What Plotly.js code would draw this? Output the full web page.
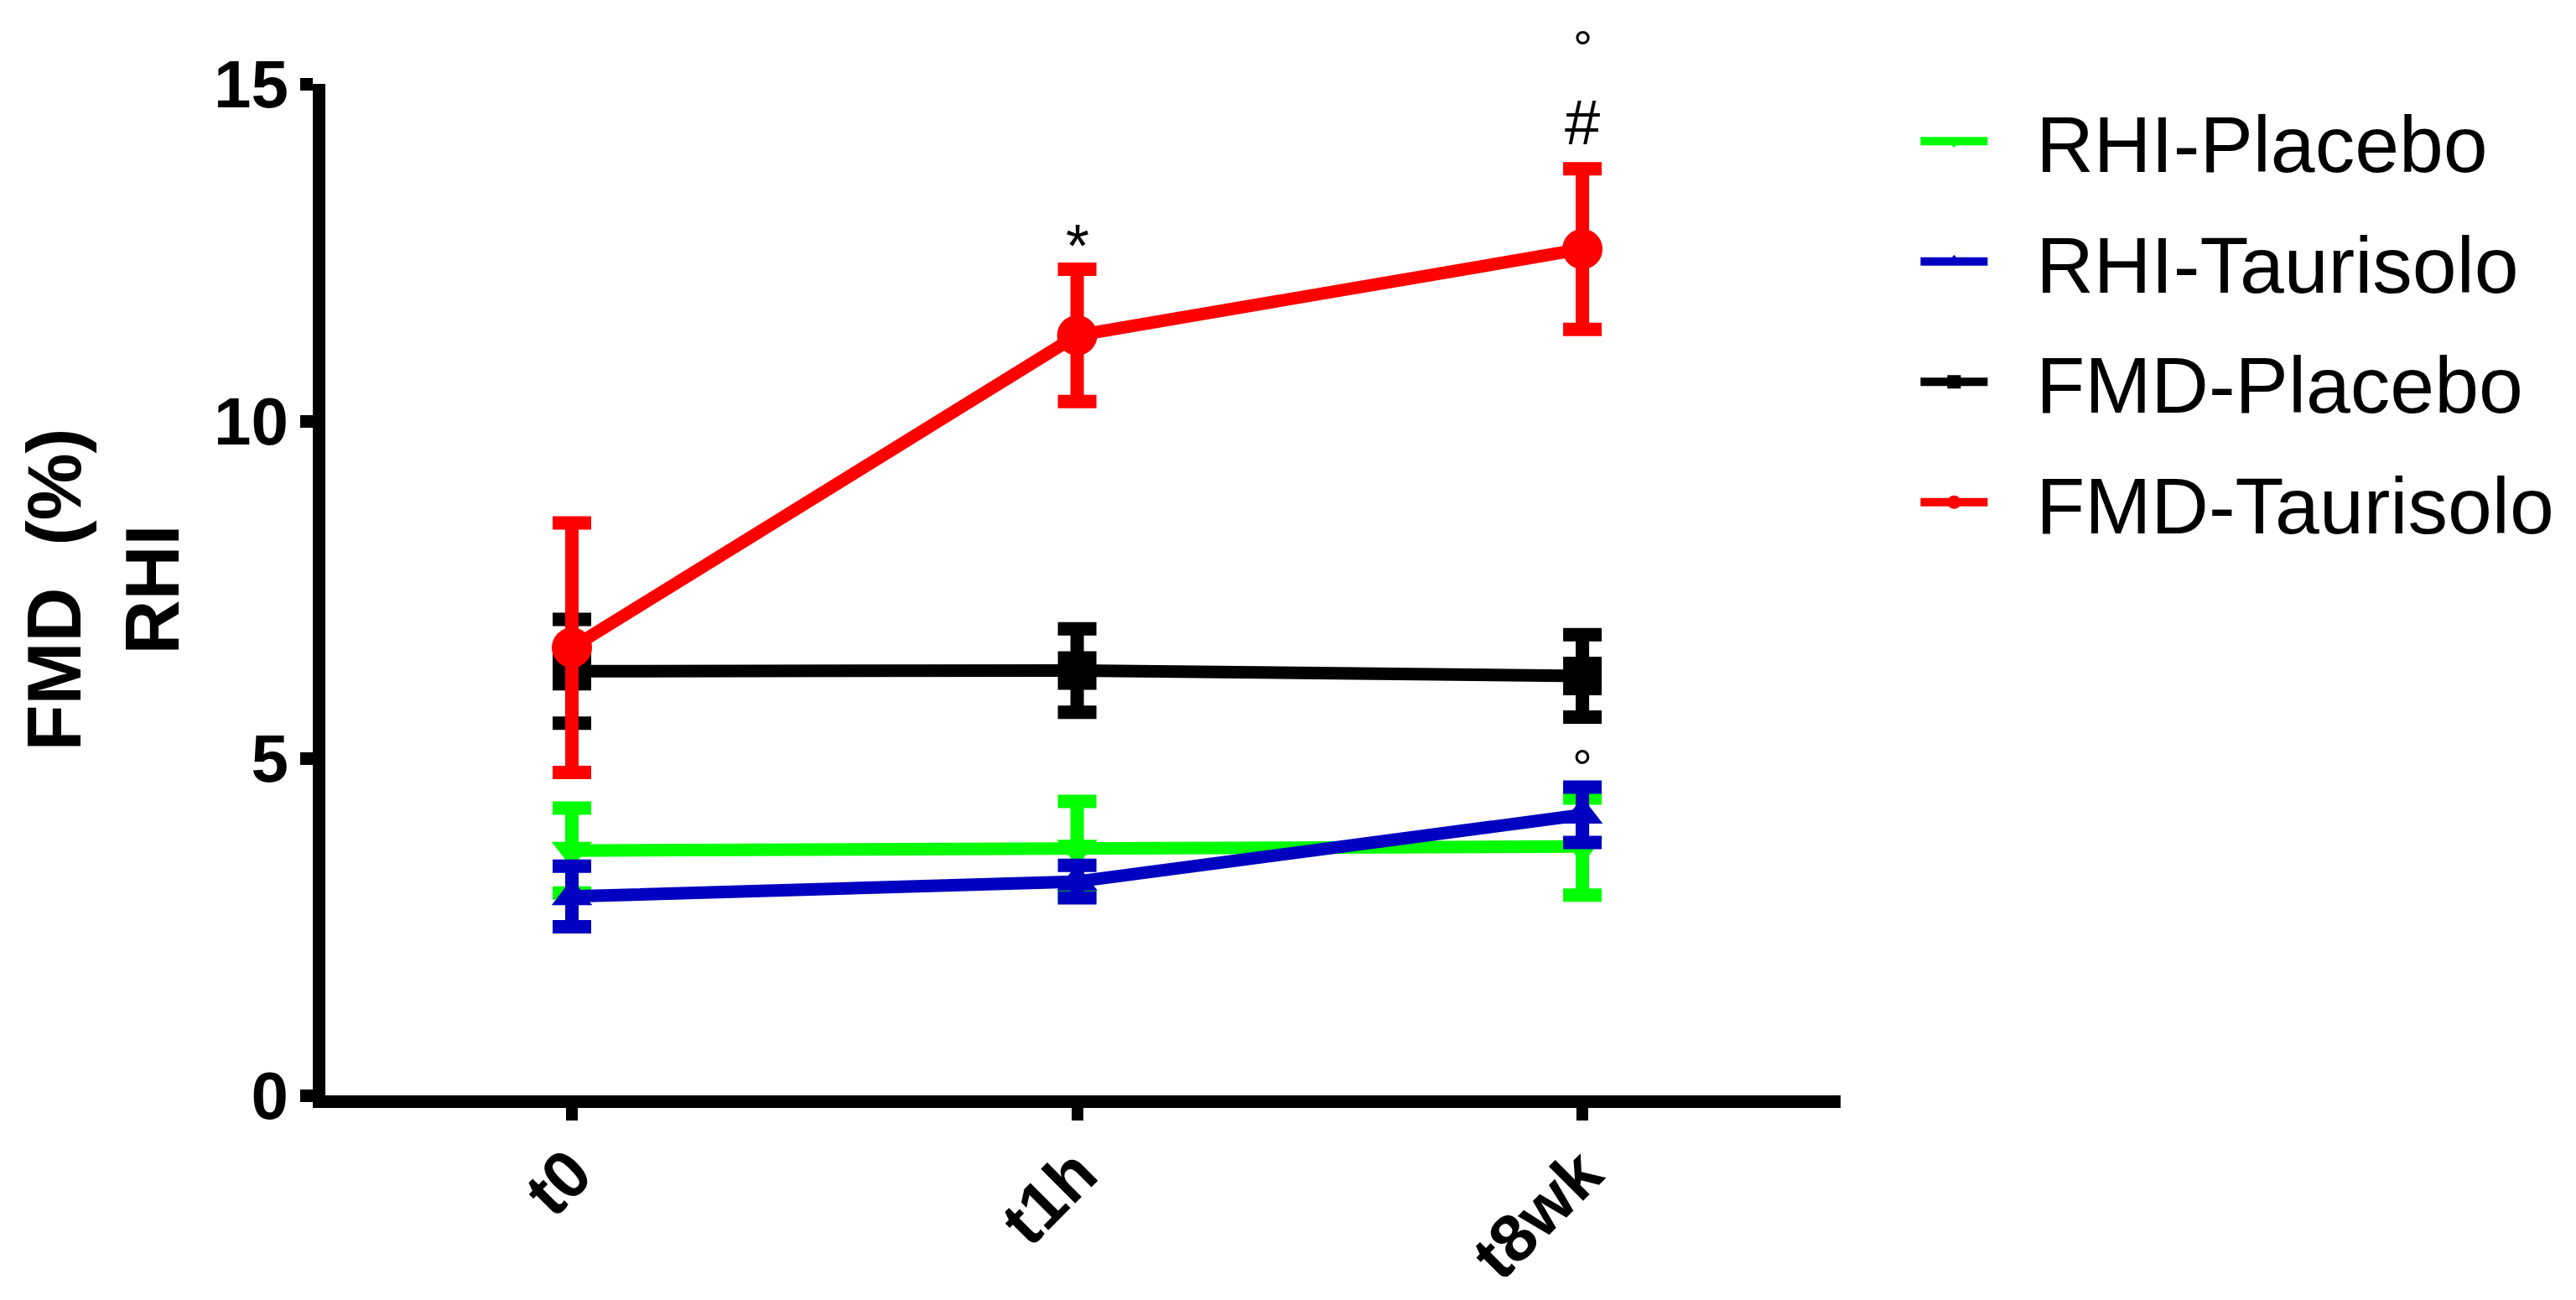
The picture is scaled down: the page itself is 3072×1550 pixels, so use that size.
<!DOCTYPE html>
<html>
<head>
<meta charset="utf-8">
<script src="https://cdn.plot.ly/plotly-3.0.1.min.js"></script>
<style>
html, body { margin: 0; padding: 0; background: #fff; }
#chart { width: 3072px; height: 1550px; }
</style>
</head>
<body>
<div id="chart"></div>
<script>
// time points
const times = ["t0", "t1h", "t8wk"];

// RHI - placebo
const rhiPlacebo = [3.63, 3.66, 3.69];
const rhiPlaceboErr = [0.63, 0.70, 0.72];

// RHI - taurisolo
const rhiTaurisolo = [2.95, 3.17, 4.16];
const rhiTaurisoloErr = [0.45, 0.24, 0.41];

// FMD - placebo
const fmdPlacebo = [6.29, 6.30, 6.22];
const fmdPlaceboErr = [0.77, 0.62, 0.61];

// FMD - taurisolo
const fmdTaurisolo = [6.64, 11.27, 12.55];
const fmdTaurisoloErr = [1.85, 0.98, 1.19];

const yTicks = [0, 5, 10, 15];

const font = "Liberation Sans, Arial, sans-serif";
const pad = "\u00a0\u00a0"; // gap between legend symbol and label

function series(name, y, err, color, symbol, size) {
  return {
    x: times,
    y: y,
    name: pad + name,
    legendgroup: name,
    type: "scatter",
    mode: "lines+markers",
    line: {color: color, width: 15},
    marker: {color: color, symbol: symbol, size: size},
    error_y: {type: "data", array: err, visible: true, color: color, thickness: 16, width: 23},
    cliponaxis: false
  };
}

const data = [
  series("RHI-Placebo", rhiPlacebo, rhiPlaceboErr, "#00ff00", "triangle-down", 42),
  series("RHI-Taurisolo", rhiTaurisolo, rhiTaurisoloErr, "#0000c0", "triangle-up", 42),
  series("FMD-Placebo", fmdPlacebo, fmdPlaceboErr, "#000000", "square", 46),
  series("FMD-Taurisolo", fmdTaurisolo, fmdTaurisoloErr, "#ff0000", "circle", 48)
];

const layout = {
  width: 3072,
  height: 1550,
  paper_bgcolor: "#ffffff",
  plot_bgcolor: "#ffffff",
  margin: {l: 388, r: 877, t: 100, b: 244},
  font: {family: font, color: "#000"},
  showlegend: true,
  legend: {
    x: 1.05, y: 1.0, xanchor: "left", yanchor: "top",
    font: {size: 95, family: font, color: "#000"},
    traceorder: "grouped",
    tracegroupgap: 17,
    itemwidth: 80
  },
  xaxis: {
    type: "category",
    range: [-0.488, 2.511],
    showline: true, linewidth: 15, linecolor: "#000",
    ticks: "outside", ticklen: 15, tickwidth: 14, tickcolor: "#000",
    tickangle: -45,
    ticklabelstandoff: -16,
    tickfont: {size: 80, family: font, weight: "bold", color: "#000"},
    showgrid: false, zeroline: false
  },
  yaxis: {
    range: [0, 15],
    tickvals: yTicks,
    showline: true, linewidth: 15, linecolor: "#000",
    ticks: "outside", ticklen: 15, tickwidth: 15, tickcolor: "#000",
    ticklabelstandoff: -2,
    tickfont: {size: 80, family: font, weight: "bold", color: "#000"},
    showgrid: false, zeroline: false,
    title: {text: "FMD  (%)<br>RHI", font: {size: 90, family: font, weight: "bold", color: "#000"}, standoff: 18}
  },
  // significance marks
  annotations: [
    {x: "t1h", y: 12.85, text: "*", showarrow: false, font: {size: 72, family: font}, yshift: -20},
    {x: "t8wk", y: 14.43, text: "#", showarrow: false, font: {size: 76, family: font}},
    {x: "t8wk", y: 15, text: "°", showarrow: false, font: {size: 58, family: font}, yshift: 44},
    {x: "t8wk", y: 5.06, text: "°", showarrow: false, font: {size: 60, family: font}, yshift: -16}
  ]
};

Plotly.newPlot("chart", data, layout, {staticPlot: true});
</script>
</body>
</html>
